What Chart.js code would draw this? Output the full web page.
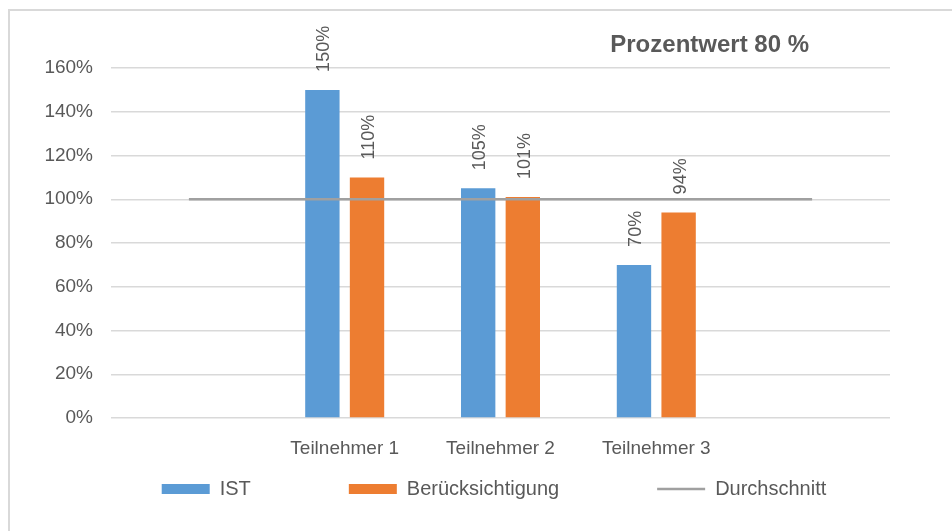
<!DOCTYPE html>
<html>
<head>
<meta charset="utf-8">
<script src="https://cdn.jsdelivr.net/npm/chart.js@4"></script>
<style>
    html, body { margin: 0; padding: 0; background: #fff; overflow: hidden; }
    #frame { position: absolute; left: 8px; top: 9px; width: 1000px; height: 600px; border: 2px solid #d9d9d9; }
    #wrap { position: absolute; left: 0; top: 0; width: 952px; height: 531px; }
</style>
</head>
<body>
<div id="frame"></div>
<div id="wrap"><canvas id="chart"></canvas></div>
<script>
// Chart values
const categories = ['', 'Teilnehmer 1', 'Teilnehmer 2', 'Teilnehmer 3', ''];
const istValues = [null, 150, 105, 70, null];
const beruecksichtigungValues = [null, 110, 101, 94, null];
const durchschnittValues = [100, 100, 100, 100, 100];
const yTicks = [0, 20, 40, 60, 80, 100, 120, 140, 160];
const chartTitle = 'Prozentwert 80 %';

const textColor = '#595959';
const fontFamily = '"Liberation Sans", Arial, sans-serif';
const legendGap = 98;

// Rotated value labels above the bars
const barLabels = {
    id: 'barLabels',
    afterDatasetsDraw(chart) {
        const ctx = chart.ctx;
        ctx.save();
        ctx.fillStyle = textColor;
        ctx.font = '18px ' + fontFamily;
        ctx.textAlign = 'left';
        ctx.textBaseline = 'middle';
        chart.data.datasets.forEach((ds, i) => {
            if (ds.type === 'line') return;
            chart.getDatasetMeta(i).data.forEach((bar, j) => {
                if (ds.data[j] == null) return;
                ctx.save();
                ctx.translate(bar.x + 2, bar.y - 18);
                ctx.rotate(-Math.PI / 2);
                ctx.fillText(ds.data[j] + '%', 0, 0);
                ctx.restore();
            });
        });
        ctx.restore();
    }
};

// Title sits top right, over the plot
const rightTitle = {
    id: 'rightTitle',
    afterDraw(chart) {
        const ctx = chart.ctx;
        ctx.save();
        ctx.fillStyle = textColor;
        ctx.font = 'bold 24px ' + fontFamily;
        ctx.textAlign = 'right';
        ctx.textBaseline = 'alphabetic';
        ctx.fillText(chartTitle, chart.chartArea.right - 81, 52);
        ctx.restore();
    }
};

// wide legend gaps also pad the legend vertically, so move the row up afterwards
const legendRow = {
    id: 'legendRow',
    afterLayout(chart) {
        const lg = chart.legend;
        lg.top = chart.chartArea.bottom + 71 - legendGap - 10;
        lg.height = 140;
        lg.bottom = lg.top + lg.height;
    }
};

new Chart(document.getElementById('chart'), {
    data: {
        labels: categories,
        datasets: [
            {
                type: 'bar',
                label: 'IST',
                data: istValues,
                backgroundColor: '#5b9bd5',
                borderWidth: 0,
                pointStyle: 'rect',
                categoryPercentage: 0.573,
                barPercentage: 0.77,
                order: 2
            },
            {
                type: 'bar',
                label: 'Berücksichtigung',
                data: beruecksichtigungValues,
                backgroundColor: '#ed7d31',
                borderWidth: 0,
                pointStyle: 'rect',
                categoryPercentage: 0.573,
                barPercentage: 0.77,
                order: 2
            },
            {
                type: 'line',
                label: 'Durchschnitt',
                data: durchschnittValues,
                borderColor: '#a0a0a0',
                backgroundColor: '#a0a0a0',
                borderWidth: 2.5,
                pointRadius: 0,
                pointStyle: 'line',
                order: 1
            }
        ]
    },
    options: {
        responsive: true,
        maintainAspectRatio: false,
        animation: false,
        layout: { padding: { left: 36, right: 0, top: 68, bottom: 8 } },
        scales: {
            x: {
                afterFit(scale) { scale.height = 45; },
                grid: { display: false },
                border: { display: false },
                ticks: { color: textColor, font: { family: fontFamily, size: 19 }, padding: 11, maxRotation: 0 }
            },
            y: {
                min: 0,
                max: 160,
                afterFit(scale) { scale.width = 75; },
                afterBuildTicks(scale) { scale.ticks = yTicks.map(v => ({ value: v })); },
                grid: { color: '#d9d9d9', lineWidth: 1.5, drawTicks: false },
                border: { display: false },
                ticks: {
                    autoSkip: false,
                    color: textColor,
                    font: { family: fontFamily, size: 19 },
                    padding: 18,
                    callback: v => v + '%'
                }
            },
            // empty right margin so the legend can stay as wide as the canvas
            yRight: {
                position: 'right',
                afterFit(scale) { scale.width = 62; },
                grid: { display: false, drawTicks: false },
                border: { display: false },
                ticks: { display: false }
            }
        },
        plugins: {
            title: { display: false },
            tooltip: { enabled: false },
            legend: {
                position: 'bottom',
                maxHeight: 60,
                labels: {
                    usePointStyle: true,
                    pointStyleWidth: 48,
                    boxHeight: 10,
                    padding: legendGap,
                    color: textColor,
                    font: { family: fontFamily, size: 20 },
                    sort: (a, b) => a.datasetIndex - b.datasetIndex
                }
            }
        }
    },
    plugins: [barLabels, rightTitle, legendRow]
});
</script>
</body>
</html>
